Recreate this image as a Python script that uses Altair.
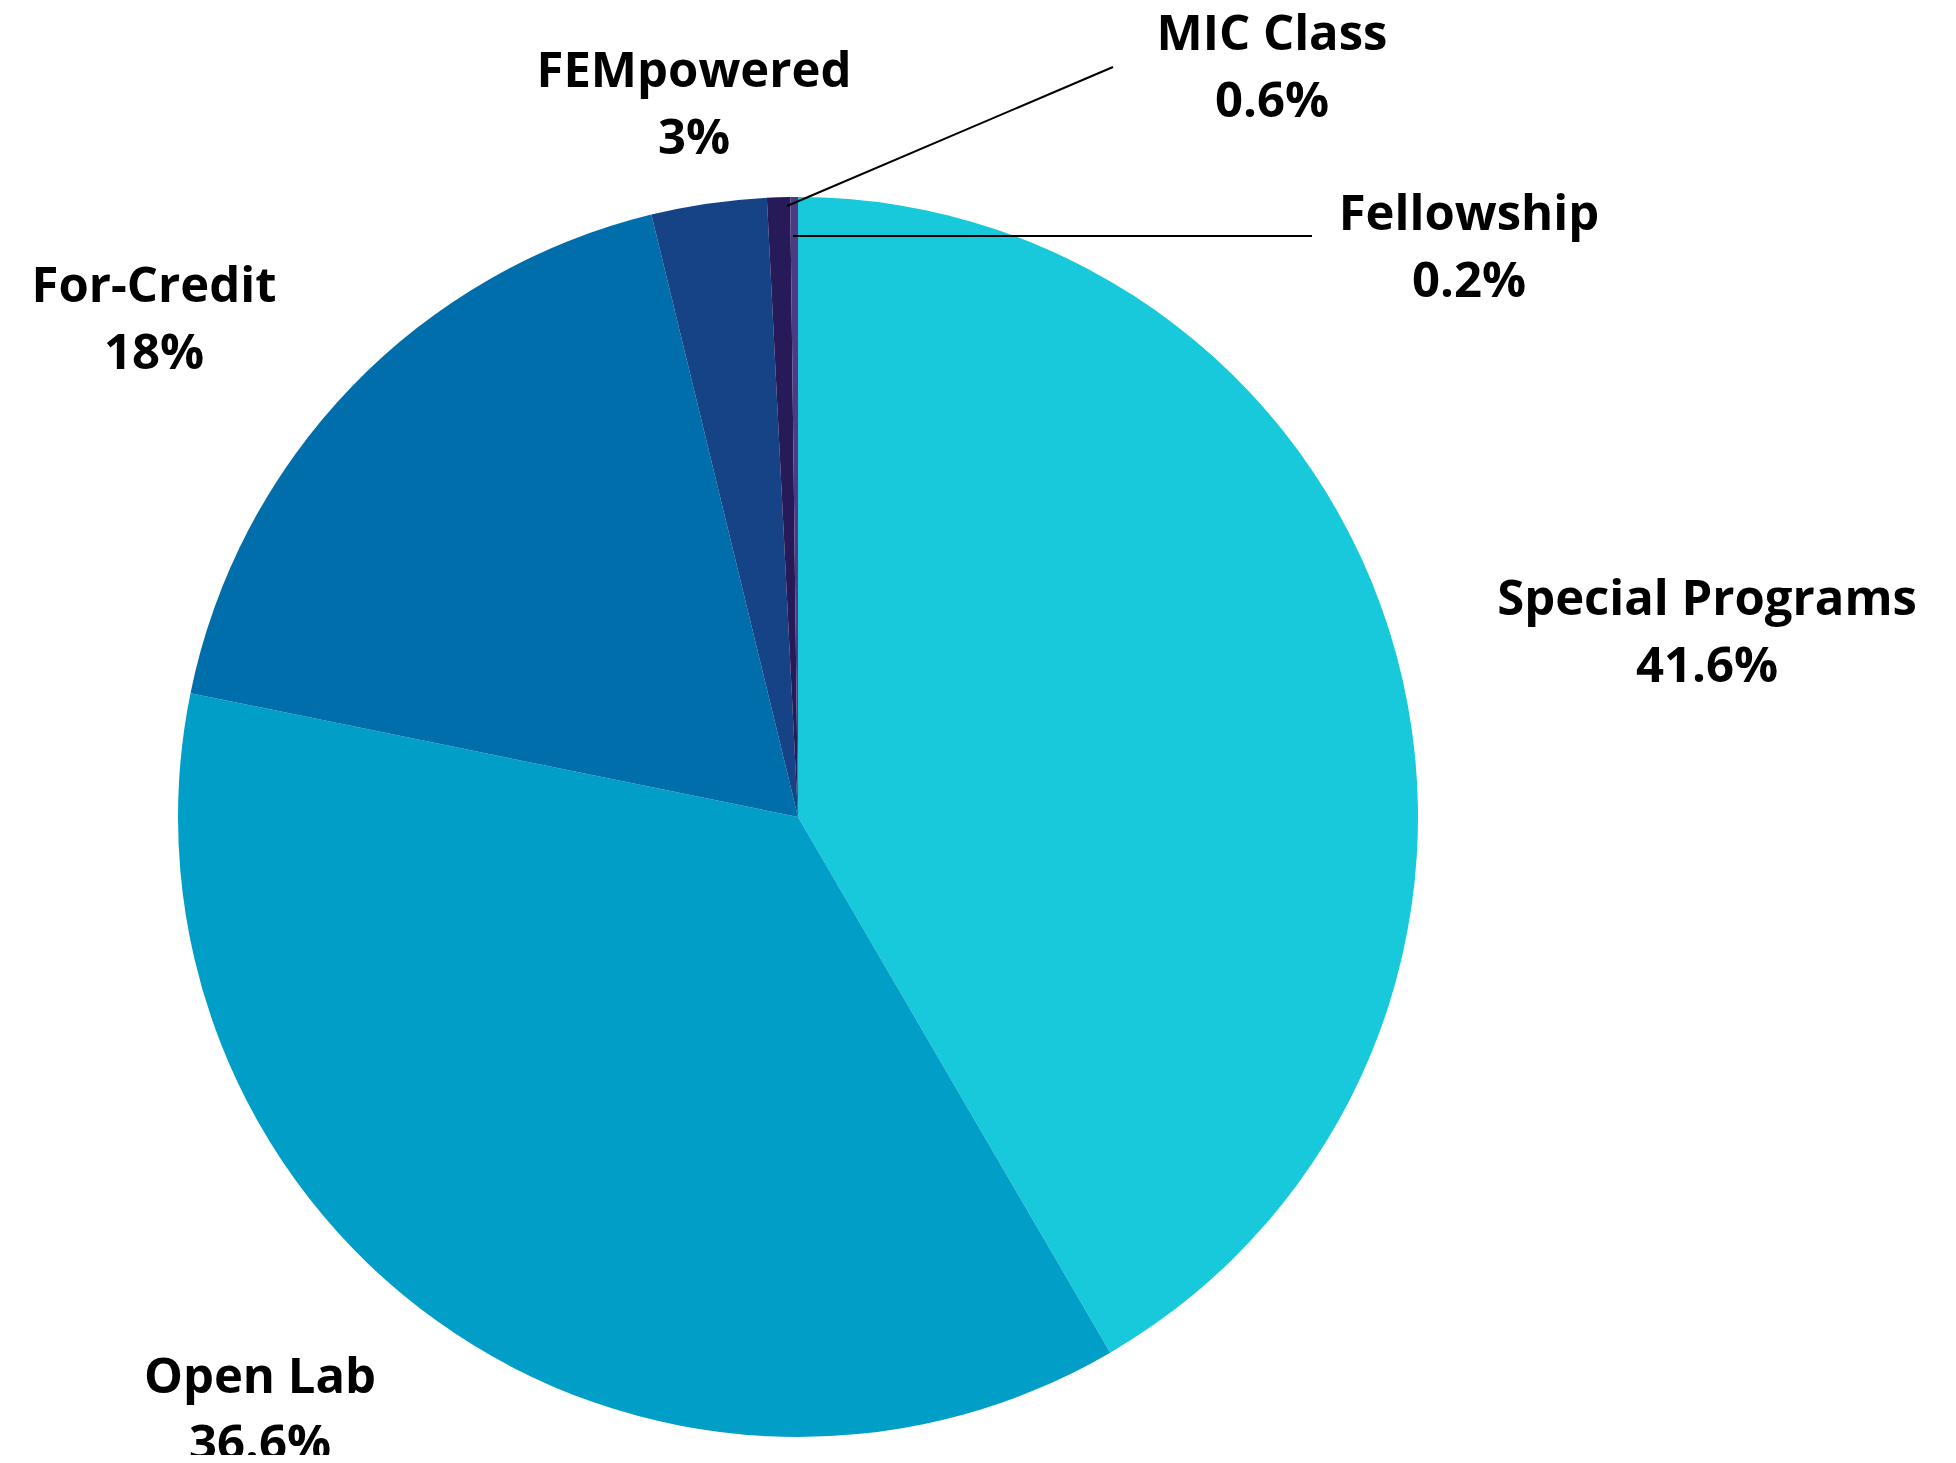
import altair as alt
import pandas as pd

# ---- data ----
categories = ["Special Programs", "Open Lab", "For-Credit", "FEMpowered", "MIC Class", "Fellowship"]
values = [41.6, 36.6, 18, 3, 0.6, 0.2]
pct_labels = ["41.6%", "36.6%", "18%", "3%", "0.6%", "0.2%"]

# ---- styles ----
colors = ["#17C9DA", "#019FC8", "#006EAB", "#154385", "#261A58", "#4E3A84"]
CX, CY, R = 790, 809, 620
FONT = "Open Sans"
FS = 49

df = pd.DataFrame({"category": categories, "value": values, "idx": list(range(len(categories)))})

pie = alt.Chart(df).mark_arc(radius=R, strokeWidth=0).encode(
    theta=alt.Theta("value:Q", stack=True),
    color=alt.Color("category:N", scale=alt.Scale(domain=categories, range=colors), legend=None),
    order=alt.Order("idx:Q"),
    x=alt.value(CX),
    y=alt.value(CY),
)

# label layout (pixel anchors for the two text lines of each label)
label_x = [1699, 252, 146, 686, 1264, 1461]
label_y1 = [592, 1370, 279, 64, 27, 207]
line_gap = 67

rows = []
for c, p, lx, ly in zip(categories, pct_labels, label_x, label_y1):
    rows.append({"t": c, "x": lx, "y": ly})
    rows.append({"t": p, "x": lx, "y": ly + line_gap})
ldf = pd.DataFrame(rows)

labels = alt.Chart(ldf).mark_text(
    font=FONT, fontWeight="bold", fontSize=FS, color="#000000", align="center", baseline="middle"
).encode(
    x=alt.X("x:Q", scale=None),
    y=alt.Y("y:Q", scale=None),
    text="t:N",
)

# leader lines for the two thin slices
lines_df = pd.DataFrame({
    "x": [779, 785],
    "y": [198, 228],
    "x2": [1105, 1304],
    "y2": [59, 228],
})
leaders = alt.Chart(lines_df).mark_rule(color="#000000", strokeWidth=2).encode(
    x=alt.X("x:Q", scale=None),
    y=alt.Y("y:Q", scale=None),
    x2="x2:Q",
    y2="y2:Q",
)

chart = alt.layer(pie, leaders, labels).properties(
    width=1940, height=1447, autosize=alt.AutoSizeParams(type="none"), padding=0
).configure_view(stroke=None)

chart.save("out.html", embed_options={"renderer": "svg", "actions": False})
